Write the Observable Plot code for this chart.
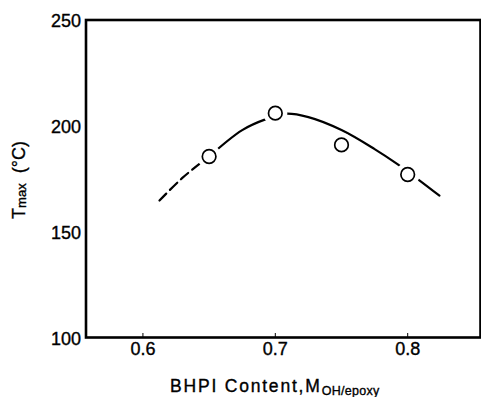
<!DOCTYPE html>
<html>
<head>
<meta charset="utf-8">
<script src="https://cdn.jsdelivr.net/npm/d3@7"></script>
<script src="https://cdn.jsdelivr.net/npm/@observablehq/plot@0.6"></script>
<style>
  html, body { margin: 0; padding: 0; background: #fff; }
  svg { display: block; }
  svg text { stroke: #000; stroke-width: 0.35px; }
</style>
</head>
<body>
<div id="chart"></div>
<script>
// Measured peak temperature against BHPI content
const bhpiContent = [0.65, 0.70, 0.75, 0.80];
const tMax = [185.5, 206, 191, 177];

// Trend curve: extrapolated (dashed) part and fitted (solid) part
const trendDashedX = [0.6125, 0.63, 0.65];
const trendDashedY = [164.7, 175.5, 185.5];
const trendSolidX = [0.65, 0.675, 0.6935, 0.7076, 0.725, 0.75, 0.775, 0.792, 0.8083, 0.824];
const trendSolidY = [185.5, 198, 203.3, 205.7, 204.1, 198, 189, 182, 174.5, 167];

// Axis ticks
const xTicks = [0.6, 0.7, 0.8];
const xTickLabels = ["0.6", "0.7", "0.8"];
const yTicks = [100, 150, 200, 250];
const yTickLabels = ["100", "150", "200", "250"];

const points = bhpiContent.map((x, i) => ({x, y: tMax[i]}));
const dashed = trendDashedX.map((x, i) => ({x, y: trendDashedY[i]}));
const solid = trendSolidX.map((x, i) => ({x, y: trendSolidY[i]}));

const chart = Plot.plot({
  width: 481,
  height: 397,
  marginLeft: 85.5,
  marginRight: 1,
  marginTop: 19.5,
  marginBottom: 60,
  style: {
    fontFamily: "'Liberation Sans', Arial, Helvetica, sans-serif",
    fontSize: "18px",
    color: "#000",
    background: "#fff"
  },
  x: {domain: [0.557, 0.855]},
  y: {domain: [100, 250]},
  marks: [
    Plot.axisY(yTicks, {
      tickSize: 0,
      tickPadding: 5,
      tickFormat: d => yTickLabels[yTicks.indexOf(d)],
      label: null,
      fontSize: 18,
      dy: 1.5
    }),
    Plot.axisX(xTicks, {
      tickSize: -4,
      tickPadding: 9,
      tickFormat: d => xTickLabels[xTicks.indexOf(d)],
      label: null,
      fontSize: 18
    }),
    Plot.line(dashed, {x: "x", y: "y", curve: "catmull-rom", stroke: "#000", strokeWidth: 2.2, strokeDasharray: "10,5"}),
    Plot.line(solid, {x: "x", y: "y", curve: "catmull-rom", stroke: "#000", strokeWidth: 2.2}),
    Plot.dot(points, {x: "x", y: "y", r: 12, fill: "#fff", stroke: null}),
    Plot.dot(points, {x: "x", y: "y", r: 6.8, fill: "#fff", stroke: "#000", strokeWidth: 1.7}),
    Plot.frame({stroke: "#000", strokeWidth: 2.6})
  ]
});

document.getElementById("chart").appendChild(chart);

// Axis titles with subscripts
const svg = d3.select(chart);

const xTitle = svg.append("text")
  .attr("x", 170)
  .attr("y", 391.5)
  .attr("text-anchor", "start")
  .attr("font-size", 17.5)
  .attr("letter-spacing", "1.8px")
  .attr("fill", "#000");
xTitle.append("tspan").text("BHPI Content,M");
xTitle.append("tspan")
  .attr("font-size", 12.5)
  .attr("dy", 3)
  .attr("letter-spacing", "0.3px")
  .text("OH/epoxy");

const yTitle = svg.append("text")
  .attr("transform", "translate(25,180) rotate(-90)")
  .attr("text-anchor", "middle")
  .attr("font-size", 18)
  .attr("fill", "#000");
yTitle.append("tspan").text("T");
yTitle.append("tspan").attr("font-size", 13).attr("dy", 1).text("max");
yTitle.append("tspan").attr("dy", -1).text("  (°C)");
</script>
</body>
</html>
